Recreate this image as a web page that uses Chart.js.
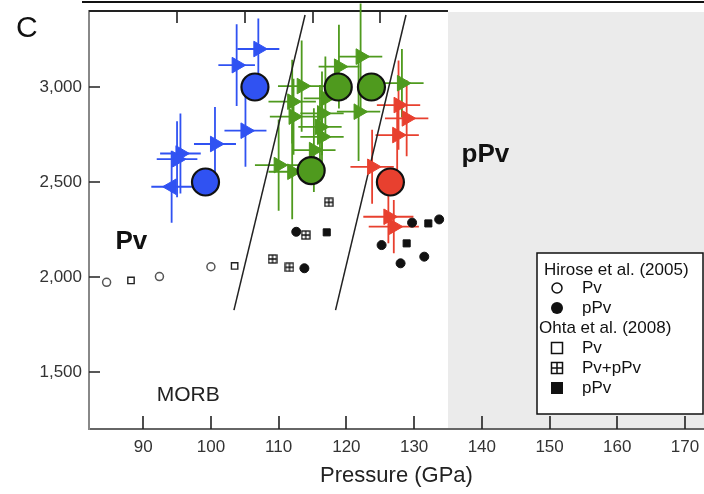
<!DOCTYPE html>
<html>
<head>
<meta charset="utf-8">
<script src="https://cdn.jsdelivr.net/npm/chart.js@4.4.1/dist/chart.umd.min.js"></script>
<style>
  html, body { margin: 0; padding: 0; background: #fff; }
  #wrap { width: 704px; height: 494px; position: relative; }
</style>
</head>
<body>
<div id="wrap"><canvas id="chart" width="704" height="494"></canvas></div>
<script>
// --- data ---
const xTicks = [90, 100, 110, 120, 130, 140, 150, 160, 170];
const topTicks = [95, 105, 115, 125];
const yTicks = [1500, 2000, 2500, 3000];
const pPvFieldStart = 135;

// Hirose et al. (2005)
const hirosePv = [[84.6, 1972], [92.4, 2002], [100.0, 2054]];
const hirosePpv = [[112.6, 2238], [113.8, 2046], [125.2, 2168], [128.0, 2072], [129.7, 2286], [131.5, 2107], [133.7, 2303]];
// Ohta et al. (2008)
const ohtaPv = [[88.2, 1982], [103.5, 2058]];
const ohtaMix = [[117.4, 2393], [114.0, 2221], [109.1, 2095], [111.6, 2051]];
const ohtaPpv = [[117.1, 2235], [128.9, 2177], [132.1, 2282]];

// this study: triangles [x, y, xErr, yErr]
const blueTri = [[107.0, 3200, 3.1, 160], [103.8, 3115, 2.7, 215], [105.1, 2770, 3.1, 190], [100.6, 2700, 3.1, 195],
                 [95.5, 2650, 3.0, 210], [95.0, 2620, 3.0, 200]];
const blueTriLeft = [[94.2, 2475, 3.0, 190]];
const greenTri = [[122.1, 3160, 3.2, 280], [118.9, 3107, 3.0, 220], [128.2, 3020, 3.2, 180], [113.4, 3005, 3.5, 240],
                  [112.0, 2923, 3.5, 220], [116.9, 2940, 3.2, 220], [121.8, 2870, 3.2, 260], [116.4, 2861, 3.2, 220],
                  [112.2, 2844, 3.5, 200], [116.1, 2790, 3.2, 220], [116.4, 2738, 3.2, 220], [115.2, 2668, 3.2, 220],
                  [110.0, 2589, 3.5, 240], [112.0, 2554, 3.5, 250]];
const redTri = [[127.7, 2905, 3.2, 235], [128.9, 2835, 3.2, 200], [127.5, 2747, 3.2, 190], [123.8, 2580, 3.2, 195],
                [126.2, 2317, 3.7, 140], [127.0, 2265, 3.7, 140]];
// big circles
const blueBig = [[106.5, 3000], [99.2, 2500]];
const greenBig = [[118.8, 3000], [123.7, 3000], [114.8, 2560]];
const redBig = [[126.5, 2500]];
// phase boundaries
const boundary1 = [[103.4, 1826], [113.9, 3379]];
const boundary2 = [[118.4, 1826], [128.8, 3379]];

const BLUE = '#3052f2';
const GREEN = '#4f9a1e';
const RED = '#e8402f';
const FONT = '"Liberation Sans", Arial, Helvetica, sans-serif';

const pts = arr => arr.map(p => ({ x: p[0], y: p[1] }));

// square with a cross inside
function crossSquare(size) {
    const c = document.createElement('canvas');
    c.width = size; c.height = size;
    const g = c.getContext('2d');
    g.strokeStyle = '#111';
    g.lineWidth = 1.3;
    g.strokeRect(1, 1, size - 2, size - 2);
    g.beginPath();
    g.moveTo(size / 2, 1); g.lineTo(size / 2, size - 1);
    g.moveTo(1, size / 2); g.lineTo(size - 1, size / 2);
    g.stroke();
    return c;
}
const mixIcon = crossSquare(10);

const errorSets = [
    { rows: blueTri, color: BLUE }, { rows: blueTriLeft, color: BLUE },
    { rows: greenTri, color: GREEN }, { rows: redTri, color: RED }
];

const decor = {
    id: 'decor',
    beforeDatasetsDraw(chart) {
        const { ctx, chartArea: a, scales: { x, y } } = chart;
        ctx.save();
        // pPv field
        const gx = x.getPixelForValue(pPvFieldStart);
        ctx.fillStyle = '#ebebeb';
        ctx.fillRect(gx, a.top + 1, a.right - gx, a.bottom - a.top - 2);
        // outer line of the panel above
        ctx.strokeStyle = '#111';
        ctx.lineWidth = 2;
        ctx.beginPath(); ctx.moveTo(82, 2); ctx.lineTo(704, 2); ctx.stroke();
        // top frame
        ctx.strokeStyle = '#222';
        ctx.lineWidth = 2;
        ctx.beginPath(); ctx.moveTo(a.left, a.top); ctx.lineTo(gx, a.top); ctx.stroke();
        // inside ticks
        ctx.strokeStyle = '#222';
        ctx.lineWidth = 1.6;
        ctx.beginPath();
        xTicks.forEach(v => { const px = Math.round(x.getPixelForValue(v)); ctx.moveTo(px, a.bottom); ctx.lineTo(px, a.bottom - 13); });
        topTicks.forEach(v => { const px = Math.round(x.getPixelForValue(v)); ctx.moveTo(px, a.top); ctx.lineTo(px, a.top + 12); });
        yTicks.forEach(v => { const py = Math.round(y.getPixelForValue(v)); ctx.moveTo(a.left, py); ctx.lineTo(a.left + 11, py); });
        ctx.stroke();
        // error bars
        ctx.lineWidth = 1.8;
        errorSets.forEach(s => {
            ctx.strokeStyle = s.color;
            s.rows.forEach(r => {
                const px = x.getPixelForValue(r[0]), py = y.getPixelForValue(r[1]);
                ctx.beginPath();
                ctx.moveTo(x.getPixelForValue(r[0] - r[2]), py);
                ctx.lineTo(x.getPixelForValue(r[0] + r[2]), py);
                ctx.moveTo(px, y.getPixelForValue(r[1] - r[3]));
                ctx.lineTo(px, y.getPixelForValue(r[1] + r[3]));
                ctx.stroke();
            });
        });
        ctx.restore();
    },
    afterDraw(chart) {
        const { ctx, scales: { x, y } } = chart;
        ctx.save();
        ctx.fillStyle = '#111';
        ctx.textBaseline = 'alphabetic';
        ctx.textAlign = 'left';
        ctx.font = '30px ' + FONT;
        ctx.fillText('C', 16, 37);
        ctx.font = 'bold 26px ' + FONT;
        ctx.fillText('Pv', x.getPixelForValue(85.9), y.getPixelForValue(2150));
        ctx.fillText('pPv', x.getPixelForValue(137.0), y.getPixelForValue(2605));
        ctx.font = '21px ' + FONT;
        ctx.fillStyle = '#222';
        ctx.fillText('MORB', x.getPixelForValue(92.0), y.getPixelForValue(1350));

        // legend box
        const lx = 537, ly = 253, lw = 166, lh = 161;
        ctx.fillStyle = '#fff';
        ctx.fillRect(lx, ly, lw, lh);
        ctx.strokeStyle = '#111';
        ctx.lineWidth = 1.5;
        ctx.strokeRect(lx, ly, lw, lh);
        ctx.fillStyle = '#111';
        ctx.textBaseline = 'middle';
        ctx.font = '17px ' + FONT;
        ctx.fillText('Hirose et al. (2005)', 544, 270);
        ctx.fillText('Ohta et al. (2008)', 539, 328);
        const mx = 557, tx = 582;
        const rows = [['Pv', 288, 'ocircle'], ['pPv', 308, 'circle'], ['Pv', 348, 'osquare'], ['Pv+pPv', 368, 'mix'], ['pPv', 388, 'square']];
        rows.forEach(r => {
            const [label, ry, kind] = r;
            ctx.fillStyle = '#111';
            ctx.fillText(label, tx, ry);
            ctx.lineWidth = 1.5;
            if (kind === 'ocircle') { ctx.beginPath(); ctx.arc(mx, ry, 5, 0, Math.PI * 2); ctx.stroke(); }
            if (kind === 'circle') { ctx.beginPath(); ctx.arc(mx, ry, 6, 0, Math.PI * 2); ctx.fill(); }
            if (kind === 'osquare') ctx.strokeRect(mx - 5.5, ry - 5.5, 11, 11);
            if (kind === 'square') ctx.fillRect(mx - 6, ry - 6, 12, 12);
            if (kind === 'mix') {
                ctx.strokeRect(mx - 5.5, ry - 5.5, 11, 11);
                ctx.beginPath(); ctx.moveTo(mx, ry - 5.5); ctx.lineTo(mx, ry + 5.5);
                ctx.moveTo(mx - 5.5, ry); ctx.lineTo(mx + 5.5, ry); ctx.stroke();
            }
        });
        ctx.restore();
    }
};

const tri = (rows, color, rot) => ({
    data: pts(rows), pointStyle: 'triangle', rotation: rot, radius: 9,
    backgroundColor: color, borderColor: color, borderWidth: 1, order: 2
});
const big = (rows, color) => ({
    data: pts(rows), pointStyle: 'circle', radius: 13.5,
    backgroundColor: color, borderColor: '#111', borderWidth: 2.2, order: 0
});
const line = rows => ({
    type: 'line', data: pts(rows), showLine: true, pointRadius: 0,
    borderColor: '#222', borderWidth: 1.5, order: 4
});

new Chart(document.getElementById('chart'), {
    type: 'scatter',
    data: {
        datasets: [
            line(boundary1), line(boundary2),
            { data: pts(hirosePv), pointStyle: 'circle', radius: 4, backgroundColor: '#fff', borderColor: '#555', borderWidth: 1.5, order: 3 },
            { data: pts(hirosePpv), pointStyle: 'circle', radius: 4.5, backgroundColor: '#111', borderColor: '#111', borderWidth: 1, order: 3 },
            { data: pts(ohtaPv), pointStyle: 'rect', radius: 4.5, backgroundColor: '#fff', borderColor: '#222', borderWidth: 1.4, order: 3 },
            { data: pts(ohtaMix), pointStyle: mixIcon, radius: 5, order: 3 },
            { data: pts(ohtaPpv), pointStyle: 'rect', radius: 5, backgroundColor: '#111', borderColor: '#111', borderWidth: 1, order: 3 },
            tri(blueTri, BLUE, 90), tri(blueTriLeft, BLUE, -90), tri(greenTri, GREEN, 90), tri(redTri, RED, 90),
            big(blueBig, BLUE), big(greenBig, GREEN), big(redBig, RED)
        ]
    },
    options: {
        responsive: false,
        animation: false,
        locale: 'en-US',
        layout: { autoPadding: false, padding: { top: 11, left: 0, right: 0, bottom: 0 } },
        plugins: { legend: { display: false }, tooltip: { enabled: false } },
        scales: {
            x: {
                type: 'linear', min: 82, max: 172.8,
                afterBuildTicks: s => { s.ticks = xTicks.map(v => ({ value: v })); },
                afterFit: s => { s.height = 65; s.paddingLeft = 0; s.paddingRight = 0; },
                grid: { display: false, drawTicks: false },
                border: { display: true, color: '#666', width: 2 },
                ticks: { padding: 8, color: '#333', font: { family: FONT, size: 17 } },
                title: { display: true, text: 'Pressure (GPa)', color: '#222', padding: { top: 0, bottom: 5 }, font: { family: FONT, size: 22 } }
            },
            y: {
                type: 'linear', min: 1200, max: 3400,
                afterBuildTicks: s => { s.ticks = yTicks.map(v => ({ value: v })); },
                afterFit: s => { s.width = 89; s.paddingTop = 0; s.paddingBottom = 0; },
                grid: { display: false, drawTicks: false },
                border: { display: true, color: '#888', width: 2 },
                ticks: { padding: 7, color: '#333', font: { family: FONT, size: 17 } }
            }
        }
    },
    plugins: [decor]
});
</script>
</body>
</html>
